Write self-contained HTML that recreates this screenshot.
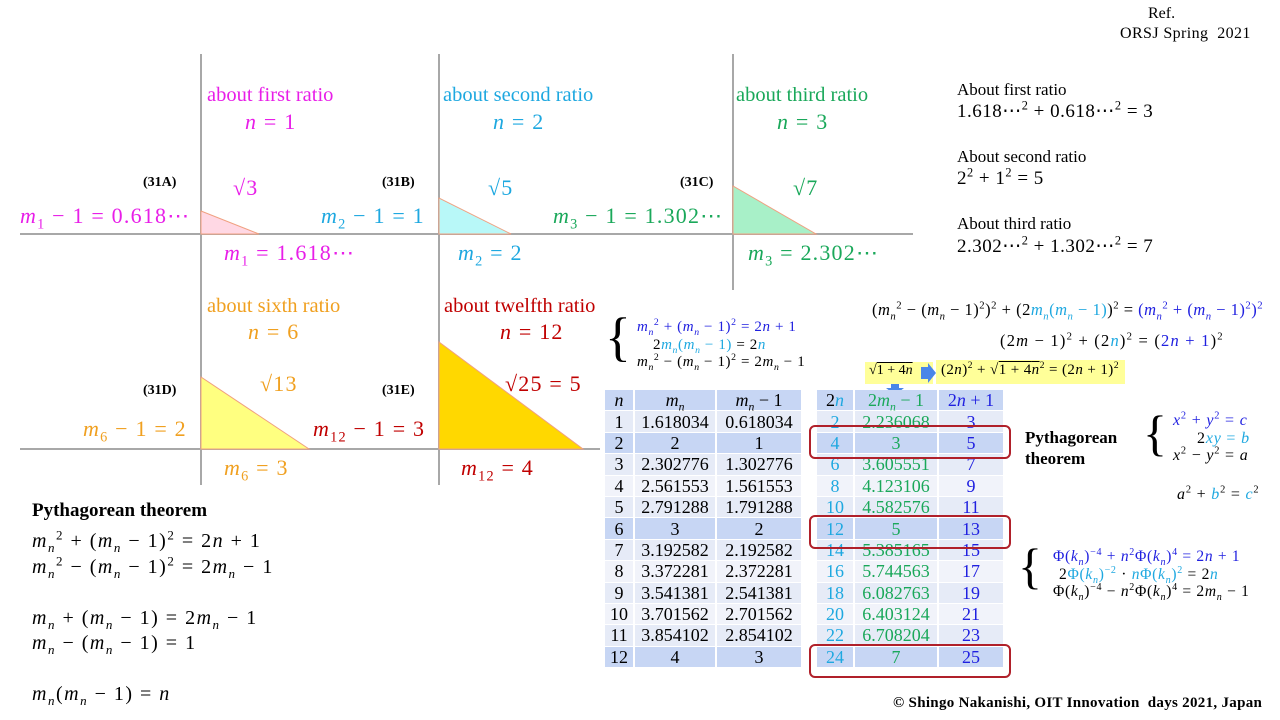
<!DOCTYPE html>
<html><head><meta charset="utf-8">
<style>
body{margin:0;width:1280px;height:720px;background:#fff;position:relative;overflow:hidden;font-family:"Liberation Serif",serif;}
.a{position:absolute;white-space:nowrap;}
i{font-style:italic}
.mg{color:#e81ee8}.cy{color:#1ea8e0}.gr{color:#1aa85a}.or{color:#f0a020}.rd{color:#c00000}.bl{color:#2020e0}
.lab{font-size:20.5px}
.m{font-size:22px;letter-spacing:1.2px}
.b{font-weight:bold}
table{border-collapse:separate;border-spacing:2px 1px;position:absolute;font-family:"Liberation Serif",serif;font-size:18px;text-align:center}
td{height:20.4px;padding:0;line-height:18px}
td sub,td sup{line-height:0}
.h td{background:#c7d6f4}
.l td{background:#e6ebf7}
.k td{background:#f1f3fa}
.hl td{background:#c7d6f4}
.box{position:absolute;border:2px solid #b0202a;border-radius:6px}
sup{font-size:65%;line-height:0}sub{font-size:65%;line-height:0}
</style></head><body>
<svg width="1280" height="720" style="position:absolute;left:0;top:0">
<g stroke="#a8a8a8" stroke-width="2">
<line x1="20" y1="234" x2="913" y2="234"/>
<line x1="20" y1="449" x2="600" y2="449"/>
<line x1="201" y1="54" x2="201" y2="485"/>
<line x1="439" y1="54" x2="439" y2="485"/>
<line x1="733" y1="54" x2="733" y2="290"/>
</g>
<polygon points="201,211 201,234 259,234" fill="#ffd8e4" stroke="#f0a080"/>
<polygon points="439,198 439,234 511,234" fill="#b8f8f8" stroke="#f0a080"/>
<polygon points="733,186 733,234 816,234" fill="#a8f0c8" stroke="#f0a080"/>
<polygon points="201,377 201,449 309,449" fill="#ffff80" stroke="#f0a080"/>
<polygon points="439,342 439,449 583,449" fill="#ffd800" stroke="#f0a080"/>
<rect x="865" y="362" width="68" height="22" fill="#ffff99"/>
<rect x="936" y="360" width="189" height="24" fill="#ffff99"/>
<polygon points="921,367 928,367 928,363 936,373 928,383 928,379 921,379" fill="#4a86e8"/>
<polygon points="891,384 899,384 899,388 904,388 895,395 886,388 891,388" fill="#4a86e8"/>
</svg>

<div class="a" style="left:1148px;top:5px;font-size:16px">Ref.</div>
<div class="a" style="left:1120px;top:25px;font-size:16px;letter-spacing:0.4px">ORSJ Spring&nbsp; 2021</div>

<div class="a lab mg" style="left:207px;top:84px">about first ratio</div>
<div class="a m mg" style="left:245px;top:109px"><i>n</i> = 1</div>
<div class="a lab cy" style="left:443px;top:84px">about second ratio</div>
<div class="a m cy" style="left:493px;top:109px"><i>n</i> = 2</div>
<div class="a lab gr" style="left:736px;top:84px">about third ratio</div>
<div class="a m gr" style="left:777px;top:109px"><i>n</i> = 3</div>

<div class="a b" style="left:143px;top:175px;font-size:14px">(31A)</div>
<div class="a b" style="left:382px;top:175px;font-size:14px">(31B)</div>
<div class="a b" style="left:680px;top:175px;font-size:14px">(31C)</div>
<div class="a m mg" style="left:233px;top:175px">√3</div>
<div class="a m cy" style="left:488px;top:175px">√5</div>
<div class="a m gr" style="left:793px;top:175px">√7</div>
<div class="a m mg" style="left:20px;top:203px"><i>m</i><sub>1</sub> − 1 = 0.618⋯</div>
<div class="a m cy" style="left:321px;top:203px"><i>m</i><sub>2</sub> − 1 = 1</div>
<div class="a m gr" style="left:553px;top:203px"><i>m</i><sub>3</sub> − 1 = 1.302⋯</div>
<div class="a m mg" style="left:224px;top:240px"><i>m</i><sub>1</sub> = 1.618⋯</div>
<div class="a m cy" style="left:458px;top:240px"><i>m</i><sub>2</sub> = 2</div>
<div class="a m gr" style="left:748px;top:240px"><i>m</i><sub>3</sub> = 2.302⋯</div>

<div class="a" style="left:957px;top:80px;font-size:17px">About first ratio</div>
<div class="a" style="left:957px;top:100px;font-size:19px;letter-spacing:0.5px">1.618⋯<sup>2</sup> + 0.618⋯<sup>2</sup> = 3</div>
<div class="a" style="left:957px;top:147px;font-size:17px">About second ratio</div>
<div class="a" style="left:957px;top:168px;font-size:19px;letter-spacing:0.5px">2<sup>2</sup> + 1<sup>2</sup> = 5</div>
<div class="a" style="left:957px;top:214px;font-size:17px">About third ratio</div>
<div class="a" style="left:957px;top:235px;font-size:19px;letter-spacing:0.5px">2.302⋯<sup>2</sup> + 1.302⋯<sup>2</sup> = 7</div>

<div class="a lab or" style="left:207px;top:295px">about sixth ratio</div>
<div class="a m or" style="left:248px;top:319px"><i>n</i> = 6</div>
<div class="a lab rd" style="left:444px;top:295px">about twelfth ratio</div>
<div class="a m rd" style="left:500px;top:319px"><i>n</i> = 12</div>
<div class="a b" style="left:143px;top:383px;font-size:14px">(31D)</div>
<div class="a b" style="left:382px;top:383px;font-size:14px">(31E)</div>
<div class="a m or" style="left:260px;top:371px">√13</div>
<div class="a m rd" style="left:505px;top:371px">√25 = 5</div>
<div class="a m or" style="left:83px;top:416px"><i>m</i><sub>6</sub> − 1 = 2</div>
<div class="a m rd" style="left:313px;top:416px"><i>m</i><sub>12</sub> − 1 = 3</div>
<div class="a m or" style="left:224px;top:455px"><i>m</i><sub>6</sub> = 3</div>
<div class="a m rd" style="left:461px;top:455px"><i>m</i><sub>12</sub> = 4</div>

<div class="a b" style="left:32px;top:500px;font-size:19px">Pythagorean theorem</div>
<div class="a" style="left:32px;top:530px;font-size:20px;letter-spacing:1.5px"><i>m</i><sub><i>n</i></sub><sup>2</sup> + (<i>m</i><sub><i>n</i></sub> − 1)<sup>2</sup> = 2<i>n</i> + 1</div>
<div class="a" style="left:32px;top:556px;font-size:20px;letter-spacing:1.5px"><i>m</i><sub><i>n</i></sub><sup>2</sup> − (<i>m</i><sub><i>n</i></sub> − 1)<sup>2</sup> = 2<i>m</i><sub><i>n</i></sub> − 1</div>
<div class="a" style="left:32px;top:607px;font-size:20px;letter-spacing:1.5px"><i>m</i><sub><i>n</i></sub> + (<i>m</i><sub><i>n</i></sub> − 1) = 2<i>m</i><sub><i>n</i></sub> − 1</div>
<div class="a" style="left:32px;top:632px;font-size:20px;letter-spacing:1.5px"><i>m</i><sub><i>n</i></sub> − (<i>m</i><sub><i>n</i></sub> − 1) = 1</div>
<div class="a" style="left:32px;top:683px;font-size:20px;letter-spacing:1.5px"><i>m</i><sub><i>n</i></sub>(<i>m</i><sub><i>n</i></sub> − 1) = <i>n</i></div>

<div class="a" style="left:605px;top:306px;font-size:54px;line-height:62px">{</div>
<div class="a bl" style="left:637px;top:319px;font-size:15px;letter-spacing:0.6px"><i>m</i><sub><i>n</i></sub><sup>2</sup> + (<i>m</i><sub><i>n</i></sub> − 1)<sup>2</sup> = 2<i>n</i> + 1</div>
<div class="a" style="left:653px;top:337px;font-size:15px;letter-spacing:0.6px">2<span class="cy"><i>m</i><sub><i>n</i></sub>(<i>m</i><sub><i>n</i></sub> − 1)</span> = 2<span class="cy"><i>n</i></span></div>
<div class="a" style="left:637px;top:354px;font-size:15px;letter-spacing:0.6px"><i>m</i><sub><i>n</i></sub><sup>2</sup> − (<i>m</i><sub><i>n</i></sub> − 1)<sup>2</sup> = 2<i>m</i><sub><i>n</i></sub> − 1</div>

<div class="a" style="left:872px;top:300px;font-size:16.5px;letter-spacing:0.5px">(<i>m</i><sub><i>n</i></sub><sup>2</sup> − (<i>m</i><sub><i>n</i></sub> − 1)<sup>2</sup>)<sup>2</sup> + (2<span class="cy"><i>m</i><sub><i>n</i></sub>(<i>m</i><sub><i>n</i></sub> − 1)</span>)<sup>2</sup> = <span class="bl">(<i>m</i><sub><i>n</i></sub><sup>2</sup> + (<i>m</i><sub><i>n</i></sub> − 1)<sup>2</sup>)<sup>2</sup></span></div>
<div class="a" style="left:1000px;top:331px;font-size:16.5px;letter-spacing:1.2px">(2<i>m</i> − 1)<sup>2</sup> + (2<span class="cy"><i>n</i></span>)<sup>2</sup> = (<span class="bl">2<i>n</i> + 1</span>)<sup>2</sup></div>
<div class="a" style="left:869px;top:363px;font-size:14px">√<span style="text-decoration:overline">1 + 4<i>n</i></span></div>
<div class="a" style="left:941px;top:362px;font-size:15px;letter-spacing:0.4px">(2<i>n</i>)<sup>2</sup> + √<span style="text-decoration:overline">1 + 4<i>n</i></span><sup>2</sup> = (2<i>n</i> + 1)<sup>2</sup></div>

<table style="left:603px;top:389px;width:200px">
<tr class="h"><td style="width:28px"><i>n</i></td><td style="width:80px"><i>m</i><sub><i>n</i></sub></td><td><i>m</i><sub><i>n</i></sub> − 1</td></tr>
<tr class="l"><td>1</td><td>1.618034</td><td>0.618034</td></tr>
<tr class="hl"><td>2</td><td>2</td><td>1</td></tr>
<tr class="l"><td>3</td><td>2.302776</td><td>1.302776</td></tr>
<tr class="k"><td>4</td><td>2.561553</td><td>1.561553</td></tr>
<tr class="l"><td>5</td><td>2.791288</td><td>1.791288</td></tr>
<tr class="hl"><td>6</td><td>3</td><td>2</td></tr>
<tr class="l"><td>7</td><td>3.192582</td><td>2.192582</td></tr>
<tr class="k"><td>8</td><td>3.372281</td><td>2.372281</td></tr>
<tr class="l"><td>9</td><td>3.541381</td><td>2.541381</td></tr>
<tr class="k"><td>10</td><td>3.701562</td><td>2.701562</td></tr>
<tr class="l"><td>11</td><td>3.854102</td><td>2.854102</td></tr>
<tr class="hl"><td>12</td><td>4</td><td>3</td></tr>
</table>
<table style="left:815px;top:389px;width:190px">
<tr class="h"><td style="width:36px">2<i class="cy">n</i></td><td class="gr" style="width:82px">2<i>m</i><sub><i>n</i></sub> − 1</td><td class="bl">2<i>n</i> + 1</td></tr>
<tr class="l"><td class="cy">2</td><td class="gr">2.236068</td><td class="bl">3</td></tr>
<tr class="hl"><td class="cy">4</td><td class="gr">3</td><td class="bl">5</td></tr>
<tr class="l"><td class="cy">6</td><td class="gr">3.605551</td><td class="bl">7</td></tr>
<tr class="k"><td class="cy">8</td><td class="gr">4.123106</td><td class="bl">9</td></tr>
<tr class="l"><td class="cy">10</td><td class="gr">4.582576</td><td class="bl">11</td></tr>
<tr class="hl"><td class="cy">12</td><td class="gr">5</td><td class="bl">13</td></tr>
<tr class="l"><td class="cy">14</td><td class="gr">5.385165</td><td class="bl">15</td></tr>
<tr class="k"><td class="cy">16</td><td class="gr">5.744563</td><td class="bl">17</td></tr>
<tr class="l"><td class="cy">18</td><td class="gr">6.082763</td><td class="bl">19</td></tr>
<tr class="k"><td class="cy">20</td><td class="gr">6.403124</td><td class="bl">21</td></tr>
<tr class="l"><td class="cy">22</td><td class="gr">6.708204</td><td class="bl">23</td></tr>
<tr class="hl"><td class="cy">24</td><td class="gr">7</td><td class="bl">25</td></tr>
</table>
<div class="box" style="left:809px;top:425px;width:198px;height:30px"></div>
<div class="box" style="left:809px;top:515px;width:198px;height:30px"></div>
<div class="box" style="left:809px;top:644px;width:198px;height:30px"></div>

<div class="a b" style="left:1025px;top:427px;font-size:17px;line-height:21px">Pythagorean<br>theorem</div>
<div class="a" style="left:1143px;top:404px;font-size:50px;line-height:58px">{</div>
<div class="a bl" style="left:1173px;top:412px;font-size:16px;letter-spacing:0.8px"><i>x</i><sup>2</sup> + <i>y</i><sup>2</sup> = <i>c</i></div>
<div class="a" style="left:1197px;top:430px;font-size:16px;letter-spacing:0.8px">2<span class="cy"><i>xy</i> = <i>b</i></span></div>
<div class="a" style="left:1173px;top:447px;font-size:16px;letter-spacing:0.8px"><i>x</i><sup>2</sup> − <i>y</i><sup>2</sup> = <i>a</i></div>
<div class="a" style="left:1177px;top:486px;font-size:16px;letter-spacing:0.8px"><i>a</i><sup>2</sup> + <span class="cy"><i>b</i></span><sup>2</sup> = <span class="cy"><i>c</i></span><sup>2</sup></div>

<div class="a" style="left:1018px;top:537px;font-size:50px;line-height:58px">{</div>
<div class="a bl" style="left:1053px;top:548px;font-size:15.5px;letter-spacing:0.7px">Φ(<i>k</i><sub><i>n</i></sub>)<sup>−4</sup> + <i>n</i><sup>2</sup>Φ(<i>k</i><sub><i>n</i></sub>)<sup>4</sup> = 2<i>n</i> + 1</div>
<div class="a" style="left:1059px;top:566px;font-size:15.5px;letter-spacing:0.7px">2<span class="cy">Φ(<i>k</i><sub><i>n</i></sub>)<sup>−2</sup></span> · <span class="cy"><i>n</i>Φ(<i>k</i><sub><i>n</i></sub>)<sup>2</sup></span> = 2<span class="cy"><i>n</i></span></div>
<div class="a" style="left:1053px;top:583px;font-size:15.5px;letter-spacing:0.7px">Φ(<i>k</i><sub><i>n</i></sub>)<sup>−4</sup> − <i>n</i><sup>2</sup>Φ(<i>k</i><sub><i>n</i></sub>)<sup>4</sup> = 2<i>m</i><sub><i>n</i></sub> − 1</div>

<div class="a b" style="left:893px;top:695px;font-size:15px;letter-spacing:0.3px">© Shingo Nakanishi, OIT Innovation&nbsp; days 2021, Japan</div>
</body></html>
